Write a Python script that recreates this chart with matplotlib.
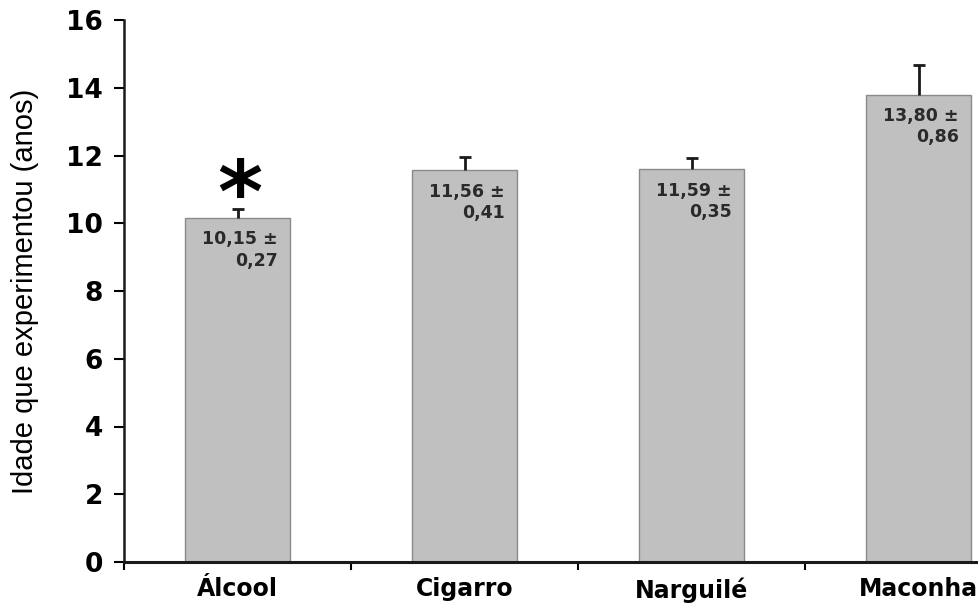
import matplotlib
matplotlib.use("Agg")
import matplotlib.pyplot as plt
import numpy as np

categories = ["Álcool", "Cigarro", "Narguilé", "Maconha"]
means = [10.15, 11.56, 11.59, 13.80]
sems = [0.27, 0.41, 0.35, 0.86]
mean_labels = ["10,15", "11,56", "11,59", "13,80"]
sem_labels = ["0,27", "0,41", "0,35", "0,86"]
yticks = [0, 2, 4, 6, 8, 10, 12, 14, 16]
ylabel = "Idade que experimentou (anos)"
significant = [True, False, False, False]

plt.rcParams["font.family"] = ["Liberation Sans", "DejaVu Sans"]
wide_bold = ["DejaVu Sans"]

fig = plt.figure(figsize=(9.79, 6.05), dpi=100)
ax = fig.add_axes([124 / 979, 43 / 605, 908 / 979, 542 / 605])

x = np.arange(len(categories))
bar_w = 0.46
ax.bar(x, means, width=bar_w, color="#c0c0c0", edgecolor="#8a8a8a",
       linewidth=1.0, zorder=2)
_, caps, _ = ax.errorbar(x, means, yerr=[np.zeros(len(sems)), sems],
                         fmt="none", ecolor="#1a1a1a", elinewidth=2.0,
                         capsize=4, capthick=2.0, zorder=3)
# only the upper cap is drawn
caps[0].set_visible(False)

for xi, m, ml, sl in zip(x, means, mean_labels, sem_labels):
    ax.text(xi + 0.01, m - 0.36, f"{ml} ±\n{sl}", ha="center", va="top",
            multialignment="right", fontsize=12.5, fontweight="bold",
            family=wide_bold, color="#2a2a2a", linespacing=1.25, zorder=4)

for xi, m, s, sig in zip(x, means, sems, significant):
    if sig:
        ax.text(xi + 0.01, m + s - 0.37, "*", ha="center", va="baseline",
                fontsize=62, fontweight="bold", family=wide_bold,
                color="black")

ax.set_xlim(-0.5, len(categories) - 0.5)
ax.set_ylim(0, 16)
ax.set_yticks(yticks)
ax.set_yticklabels([str(t) for t in yticks], fontsize=19, fontweight="bold",
                   family=wide_bold)
ax.set_xticks(np.arange(-0.5, len(categories), 1.0))
ax.set_xticklabels([])
ax.set_xticks(x, minor=True)
ax.set_xticklabels(categories, minor=True, fontsize=17, fontweight="bold",
                   family=wide_bold)
ax.tick_params(axis="x", which="minor", length=0, pad=11)
ax.tick_params(axis="x", which="major", length=6, width=1.5, direction="out")
ax.tick_params(axis="y", length=7, width=1.5, direction="out", pad=8)
ax.set_ylabel(ylabel, fontsize=21, labelpad=20)

for side in ("top", "right"):
    ax.spines[side].set_visible(False)
ax.spines["left"].set_linewidth(1.8)
ax.spines["bottom"].set_linewidth(2.2)
ax.spines["left"].set_color("#1a1a1a")
ax.spines["bottom"].set_color("#1a1a1a")

fig.savefig("out.png", dpi=100)
